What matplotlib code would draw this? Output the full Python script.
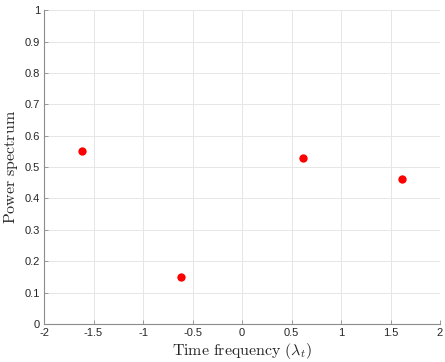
import matplotlib
matplotlib.use("Agg")
import matplotlib.pyplot as plt
import numpy as np

plt.rcParams.update({"font.family": "Liberation Sans", "mathtext.fontset": "cm"})

# Data
freqs = [-1.618, -0.618, 0.618, 1.618]
power = [0.552, 0.150, 0.529, 0.461]

fig = plt.figure(figsize=(4.45, 3.62), dpi=100)
ax = fig.add_axes([0.0989, 0.105, 0.8899, 0.867])

ax.plot(freqs, power, "o", color="red", markersize=6, markeredgewidth=0)

ax.set_xlim(-2, 2)
ax.set_ylim(0, 1)
ax.set_xticks(np.arange(-2, 2.01, 0.5))
ax.set_xticklabels(["-2", "-1.5", "-1", "-0.5", "0", "0.5", "1", "1.5", "2"])
ax.set_yticks(np.arange(0, 1.01, 0.1))
ax.set_yticklabels(["0", "0.1", "0.2", "0.3", "0.4", "0.5", "0.6", "0.7", "0.8", "0.9", "1"])

ax.grid(True, color="#e6e6e6", linewidth=0.7)
ax.set_axisbelow(True)
for side in ["top", "right"]:
    ax.spines[side].set_visible(False)
for side in ["left", "bottom"]:
    ax.spines[side].set_color("#8c8c8c")
    ax.spines[side].set_linewidth(0.8)
ax.tick_params(direction="in", length=3, width=0.6, color="#8c8c8c",
               labelsize=8, labelcolor="#262626", pad=3)

ax.set_xlabel(r"$\mathrm{Time\ frequency\ (}\lambda_t\mathrm{)}$", fontsize=11.5,
              color="#262626", labelpad=2)
ax.set_ylabel(r"$\mathrm{Power\ spectrum}$", fontsize=11.5, color="#262626",
              labelpad=3)

fig.savefig("out.png", dpi=100)
